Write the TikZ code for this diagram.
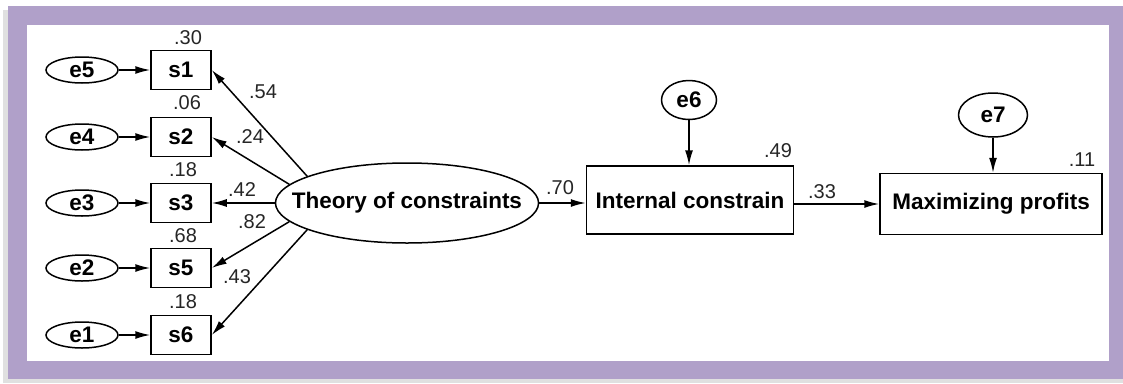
\documentclass[tikz,border=0pt]{standalone}
\usepackage{fontspec}
\setmainfont{Liberation Sans}
\usetikzlibrary{arrows.meta,shapes.geometric}
\definecolor{framepurple}{RGB}{176,160,201}
\begin{document}
\begin{tikzpicture}[x=1pt,y=-1pt,line width=1.5pt,
  every node/.style={font=\fontsize{22.5}{27}\selectfont\bfseries},
  err/.style={draw,ellipse,inner sep=0pt,minimum width=72pt,minimum height=26pt},
  obs/.style={draw,rectangle,inner sep=0pt,minimum width=60pt,minimum height=39pt},
  coef/.style={font=\fontsize{20}{24}\selectfont,text=black!85,inner sep=0pt},
  arr/.style={-{Latex[length=15pt,width=8pt]}}]

\useasboundingbox (0,0) rectangle (1123,383);
\fill[black!12] (3,10) rectangle (1123,383);
\fill[framepurple] (8,6) rectangle (1123,379);
\fill[white] (27,25) rectangle (1109,361);

\node[err] (e5) at (82,70) {e5};
\node[err] (e4) at (82,137) {e4};
\node[err] (e3) at (82,203) {e3};
\node[err] (e2) at (82,268) {e2};
\node[err] (e1) at (82,335) {e1};

\node[obs] (s1) at (181,70) {s1};
\node[obs] (s2) at (181,137) {s2};
\node[obs] (s3) at (181,203) {s3};
\node[obs] (s5) at (181,268) {s5};
\node[obs] (s6) at (181,335) {s6};

\node[draw,ellipse,inner xsep=-22pt,inner ysep=0pt,minimum width=261pt,minimum height=80pt] (toc) at (407,203) {Theory of constraints};
\node[draw,rectangle,inner sep=0pt,minimum width=207pt,minimum height=68pt] (int) at (690,200) {Internal constrain};
\node[draw,rectangle,inner sep=0pt,minimum width=222pt,minimum height=61pt] (max) at (991,204) {Maximizing profits};
\node[err,minimum width=55pt,minimum height=39pt] (e6) at (689,100) {e6};
\node[err,minimum width=69pt,minimum height=44pt] (e7) at (993,115) {e7};

\draw[arr] (e5) -- (s1);
\draw[arr] (e4) -- (s2);
\draw[arr] (e3) -- (s3);
\draw[arr] (e2) -- (s5);
\draw[arr] (e1) -- (s6);

\draw[arr] (toc.165) -- (s1.east);
\draw[arr] (toc.171) -- (s2.east);
\draw[arr] (toc.west) -- (s3.east);
\draw[arr] (toc.189) -- (s5.east);
\draw[arr] (toc.195) -- (s6.east);

\draw[arr] (toc.east) -- (toc.east -| int.west);
\draw[arr] (max.west -| int.east) -- (max.west);
\draw[arr] (e6.south) -- (e6.south |- int.north);
\draw[arr] (e7.south) -- (e7.south |- max.north);

\node[coef] (r1) at (188,38) {.30};
\node[coef] (r2) at (187,103) {.06};
\node[coef] (r3) at (183,170) {.18};
\node[coef] (r5) at (183,236) {.68};
\node[coef] (r6) at (183,302) {.18};
\node[coef] (w1) at (263,92) {.54};
\node[coef] (w2) at (250,137) {.24};
\node[coef] (w3) at (242,190) {.42};
\node[coef] (w5) at (252,222) {.82};
\node[coef] (w6) at (237,277) {.43};
\node[coef] (wint) at (560,188) {.70};
\node[coef] (rint) at (778,151) {.49};
\node[coef] (wmax) at (822,192) {.33};
\node[coef] (rmax) at (1082,160) {.11};
\end{tikzpicture}
\end{document}
